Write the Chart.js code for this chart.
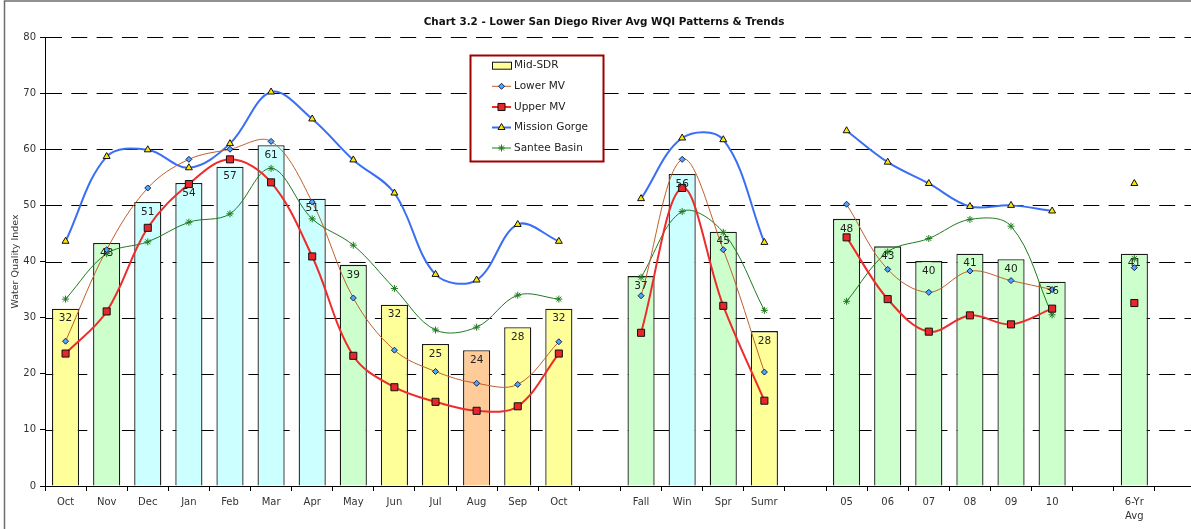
<!DOCTYPE html>
<html>
<head>
<meta charset="utf-8">
<script src="https://cdn.jsdelivr.net/npm/chart.js@4/dist/chart.umd.min.js"></script>
<style>
  html, body { margin: 0; padding: 0; background: #fff; overflow: hidden; }
  #wrap { position: absolute; left: 0; top: 0; width: 1205px; height: 529px; }
</style>
</head>
<body>
<div id="wrap"><canvas id="wqi" width="1205" height="529"></canvas></div>
<script>
// Categories: monthly, seasonal, yearly, multi-year average (blank slots separate the groups)
const categories = ['Oct','Nov','Dec','Jan','Feb','Mar','Apr','May','Jun','Jul','Aug','Sep','Oct','',
  'Fall','Win','Spr','Sumr','',
  '05','06','07','08','09','10','',
  ['6-Yr','Avg'],''];

// Mid-SDR average WQI (bars)
const midSDR = [31.6, 43.3, 50.6, 54.0, 56.9, 60.7, 51.2, 39.4, 32.3, 25.3, 24.2, 28.3, 31.6, null,
  37.4, 55.6, 45.3, 27.6, null,
  47.6, 42.7, 40.1, 41.4, 40.4, 36.4, null,
  41.4, null];

// Bar fill class per category: Y = yellow, G = green, C = cyan, O = orange
const midSDRClass = ['Y','G','C','C','C','C','C','G','Y','Y','O','Y','Y','',
  'G','C','G','Y','',
  'G','G','G','G','G','G','',
  'G',''];

const lowerMV = [25.8, 42.1, 53.1, 58.2, 60.0, 61.4, 50.6, 33.5, 24.2, 20.4, 18.3, 18.1, 25.7, null,
  33.9, 58.2, 42.1, 20.3, null,
  50.2, 38.6, 34.5, 38.3, 36.6, 35.0, null,
  38.9, null];

const upperMV = [23.6, 31.1, 46.0, 53.8, 58.2, 54.1, 40.9, 23.2, 17.6, 15.0, 13.4, 14.2, 23.6, null,
  27.3, 53.1, 32.1, 15.2, null,
  44.3, 33.3, 27.5, 30.4, 28.8, 31.6, null,
  32.6, null];

const missionGorge = [43.6, 58.7, 59.9, 56.7, 61.0, 70.2, 65.4, 58.1, 52.2, 37.7, 36.7, 46.6, 43.6, null,
  51.2, 62.0, 61.7, 43.4, null,
  63.3, 57.7, 53.9, 49.8, 50.0, 49.0, null,
  53.9, null];

const santeeBasin = [33.3, 41.4, 43.5, 47.0, 48.5, 56.6, 47.6, 42.9, 35.2, 27.8, 28.3, 34.0, 33.3, null,
  37.2, 48.9, 45.2, 31.3, null,
  32.9, 41.7, 44.1, 47.5, 46.3, 30.5, null,
  40.5, null];

const yMin = 0, yMax = 80, yStep = 10;

const FONT = '"DejaVu Sans", Verdana, sans-serif';
const classFill = { Y: '#FFFF99', G: '#CCFFCC', C: '#CCFFFF', O: '#FFCC99', '': '#FFFFFF' };

const styles = {
  lower:   { line: '#C0602A', width: 1,   point: 'rectRot',  radius: 3,   fill: '#4DA6FF', stroke: '#1A2050' },
  upper:   { line: '#EE2C2C', width: 2,   point: 'rect',     radius: 5,   fill: '#E8272B', stroke: '#111111' },
  gorge:   { line: '#3A6EF5', width: 2,   point: 'triangle', radius: 4,   fill: '#FFE600', stroke: '#111111' },
  santee:  { line: '#1F7A1F', width: 1,   point: 'star',     radius: 3.5, fill: '#1F7A1F', stroke: '#1F7A1F' }
};

function lineSet(label, data, s, order) {
  return {
    type: 'line', label, data, order,
    borderColor: s.line, borderWidth: s.width,
    tension: 0.36, spanGaps: false, fill: false,
    pointStyle: s.point, pointRadius: s.radius,
    pointBackgroundColor: s.fill, pointBorderColor: s.stroke, pointBorderWidth: 1
  };
}

// Outer frame and background
const framePlugin = {
  id: 'frame',
  beforeDraw(chart) {
    const ctx = chart.ctx;
    ctx.save();
    ctx.fillStyle = '#FFFFFF';
    ctx.fillRect(0, 0, chart.width, chart.height);
    ctx.restore();
  },
  afterDraw(chart) {
    const ctx = chart.ctx;
    ctx.save();
    ctx.strokeStyle = '#6E6E6E';
    ctx.lineWidth = 1.5;
    ctx.beginPath();
    ctx.moveTo(4.5, chart.height);
    ctx.lineTo(4.5, 1);
    ctx.lineTo(chart.width, 1);
    ctx.stroke();
    ctx.restore();
  }
};

// Dashed horizontal gridlines at each y tick (behind the bars)
const dashedGridPlugin = {
  id: 'dashedGrid',
  beforeDatasetsDraw(chart) {
    const ctx = chart.ctx;
    const ys = chart.scales.y;
    const area = chart.chartArea;
    ctx.save();
    ctx.strokeStyle = '#000000';
    ctx.lineWidth = 1;
    ctx.setLineDash([16, 9.3]);
    ctx.lineDashOffset = -1;
    ys.ticks.forEach(t => {
      if (t.value === yMin) return;
      const y = Math.round(ys.getPixelForValue(t.value)) + 0.5;
      ctx.beginPath();
      ctx.moveTo(area.left, y);
      ctx.lineTo(area.right, y);
      ctx.stroke();
    });
    ctx.restore();
  }
};

// Chart heading
const headingPlugin = {
  id: 'heading',
  afterDraw(chart) {
    const ctx = chart.ctx;
    ctx.save();
    ctx.font = 'bold 10.4px ' + FONT;
    ctx.fillStyle = '#111111';
    ctx.textAlign = 'center';
    ctx.textBaseline = 'middle';
    ctx.fillText('Chart 3.2 - Lower San Diego River Avg WQI Patterns & Trends', 604, 22);
    ctx.restore();
  }
};

// Value labels inside the top of each bar
const barLabelPlugin = {
  id: 'barLabels',
  afterDatasetsDraw(chart) {
    const ctx = chart.ctx;
    const meta = chart.getDatasetMeta(0);
    const data = chart.data.datasets[0].data;
    ctx.save();
    ctx.font = '10.5px ' + FONT;
    ctx.fillStyle = '#222222';
    ctx.textAlign = 'center';
    ctx.textBaseline = 'middle';
    meta.data.forEach((el, i) => {
      const v = data[i];
      if (v === null || v === undefined) return;
      ctx.fillText(String(Math.round(v)), el.x, el.y + 10);
    });
    ctx.restore();
  }
};

// Boxed legend inside the plot area
const legendBoxPlugin = {
  id: 'legendBox',
  afterDraw(chart) {
    const ctx = chart.ctx;
    const bx = 470.5, by = 55.5, bw = 133, bh = 106;
    ctx.save();
    ctx.fillStyle = '#FFFFFF';
    ctx.fillRect(bx, by, bw, bh);
    ctx.strokeStyle = '#A00000';
    ctx.lineWidth = 2;
    ctx.strokeRect(bx, by, bw, bh);

    const rows = [65.7, 86.3, 107, 127.5, 148];
    const x0 = 492, x1 = 511, xm = 501.5, tx = 514;
    ctx.font = '10.5px ' + FONT;
    ctx.textBaseline = 'middle';
    ctx.textAlign = 'left';

    // Mid-SDR swatch
    ctx.fillStyle = classFill.Y;
    ctx.fillRect(x0 + 0.5, rows[0] - 3.5, 19, 7);
    ctx.strokeStyle = '#111111';
    ctx.lineWidth = 1;
    ctx.strokeRect(x0 + 0.5, rows[0] - 3.5, 19, 7);
    ctx.fillStyle = '#222222';
    ctx.fillText('Mid-SDR', tx, rows[0]);

    const items = [
      ['Lower MV', styles.lower],
      ['Upper MV', styles.upper],
      ['Mission Gorge', styles.gorge],
      ['Santee Basin', styles.santee]
    ];
    items.forEach((it, k) => {
      const y = rows[k + 1];
      const s = it[1];
      ctx.strokeStyle = s.line;
      ctx.lineWidth = s.width;
      ctx.beginPath();
      ctx.moveTo(x0, y);
      ctx.lineTo(x1, y);
      ctx.stroke();
      ctx.fillStyle = s.fill;
      ctx.strokeStyle = s.stroke;
      ctx.lineWidth = 1;
      if (Chart.helpers && Chart.helpers.drawPoint) {
        Chart.helpers.drawPoint(ctx, { pointStyle: s.point, radius: s.radius, rotation: 0, borderWidth: 1 }, xm, y);
      }
      ctx.fillStyle = '#222222';
      ctx.fillText(it[0], tx, y);
    });
    ctx.restore();
  }
};

new Chart(document.getElementById('wqi'), {
  type: 'bar',
  data: {
    labels: categories,
    datasets: [
      {
        type: 'bar', label: 'Mid-SDR', data: midSDR, order: 10,
        backgroundColor: midSDRClass.map(c => classFill[c]),
        borderColor: '#1A1A1A', borderWidth: 1.3,
        categoryPercentage: 1, barPercentage: 0.66
      },
      lineSet('Lower MV', lowerMV, styles.lower, 2),
      lineSet('Upper MV', upperMV, styles.upper, 1),
      lineSet('Mission Gorge', missionGorge, styles.gorge, 3),
      lineSet('Santee Basin', santeeBasin, styles.santee, 4)
    ]
  },
  options: {
    responsive: false,
    devicePixelRatio: 1,
    animation: false,
    layout: { padding: { left: 0, right: 9, top: 37, bottom: 0 } },
    plugins: {
      legend: { display: false },
      tooltip: { enabled: false },
      title: { display: false }
    },
    scales: {
      x: {
        offset: true,
        afterFit(scale) { scale.height = 43; },
        grid: {
          display: true, offset: true, drawOnChartArea: false, drawTicks: true,
          tickLength: 5, tickColor: '#000000', color: '#000000'
        },
        border: { display: true, color: '#000000', width: 1 },
        ticks: {
          autoSkip: false, maxRotation: 0, minRotation: 0, padding: 4,
          color: '#333333', font: { family: FONT, size: 10, lineHeight: 1.45 }
        }
      },
      y: {
        min: yMin, max: yMax,
        afterFit(scale) { scale.width = 45; },
        grid: {
          drawOnChartArea: false, color: '#000000',
          lineWidth: 1, drawTicks: true, tickLength: 5, tickColor: '#000000'
        },
        border: { display: true, color: '#000000', width: 1 },
        ticks: {
          stepSize: yStep, padding: 4, color: '#333333',
          font: { family: FONT, size: 10 }
        },
        title: {
          display: true, text: 'Water Quality Index', color: '#333333',
          font: { family: FONT, size: 9.5 }, padding: { top: 10, bottom: 0 }
        }
      }
    }
  },
  plugins: [framePlugin, dashedGridPlugin, barLabelPlugin, headingPlugin, legendBoxPlugin]
});
</script>
</body>
</html>
